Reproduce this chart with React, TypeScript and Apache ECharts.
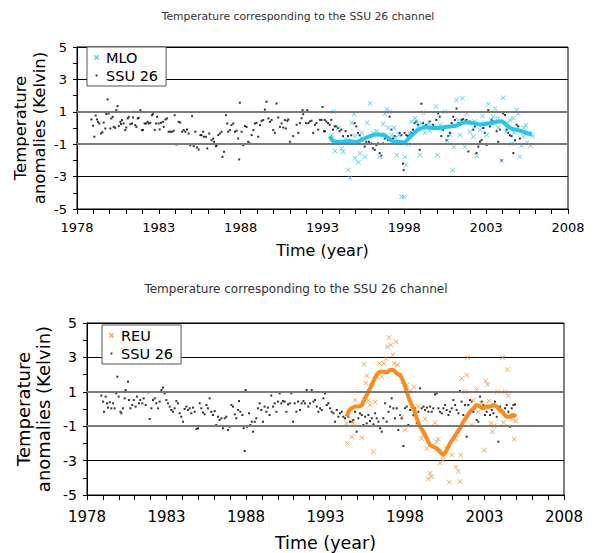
import React, { useEffect, useRef } from 'react';
import * as echarts from 'echarts';

const TITLE = 'Temperature corresponding to the SSU 26 channel';
const X_MIN = 1978;
const X_MAX = 2008;
const X_STEP = 5;
const Y_MIN = -5;
const Y_MAX = 5;
const Y_STEP = 2;

// ---------- top chart (MLO) ----------
const ssuTop: number[][] = [
  [1978.88,0.53],[1978.98,0.14],[1979.06,-0.54],[1979.14,0.77],[1979.22,0.53],[1979.28,0.38],[1979.36,0.28],[1979.47,-0.34],[1979.55,-0.26],[1979.63,0.34],[1979.73,-0.03],[1979.79,0.86],[1979.87,1.76],[1979.93,0.9],[1980.04,-0.03],[1980.1,0.59],[1980.18,0.69],[1980.24,0.07],[1980.34,0.01],[1980.4,1.1],[1980.48,1.35],[1980.55,0.12],[1980.65,0.38],[1980.69,0.24],[1980.75,0.49],[1980.85,0.28],[1980.95,-0.13],[1981.01,0.03],[1981.1,0.59],[1981.16,0.69],[1981.26,0.24],[1981.36,0.28],[1981.42,0.65],[1981.46,1.0],[1981.56,0.18],[1981.63,0.07],[1981.71,0.59],[1981.77,0.63],[1981.87,1.1],[1981.97,-0.13],[1982.03,-0.13],[1982.13,0.28],[1982.22,0.28],[1982.32,0.38],[1982.38,0.28],[1982.48,0.32],[1982.58,0.79],[1982.64,0.86],[1982.75,-0.13],[1982.83,0.28],[1982.89,0.69],[1982.99,0.28],[1983.05,-0.09],[1983.13,0.32],[1983.25,0.38],[1983.3,0.07],[1983.4,0.53],[1983.5,0.59],[1983.6,-0.23],[1983.7,-0.23],[1983.8,-0.23],[1983.91,-0.17],[1983.97,0.79],[1984.07,-1.02],[1984.21,0.38],[1984.31,0.34],[1984.42,-0.23],[1984.52,-0.13],[1984.62,-0.23],[1984.72,-0.09],[1984.82,-0.34],[1984.92,-1.06],[1985.03,0.73],[1985.13,-1.12],[1985.23,-0.23],[1985.33,-1.2],[1985.43,-1.33],[1985.54,-0.44],
  [1985.61,-0.44],[1985.71,-0.23],[1985.75,-0.54],[1985.88,-0.54],[1985.96,-1.26],[1986.08,-0.34],[1986.22,-0.75],[1986.32,-0.65],[1986.37,-0.85],[1986.49,-1.12],[1986.53,-1.06],[1986.63,-0.44],[1986.73,-0.34],[1986.83,-0.23],[1986.89,-1.78],[1986.98,-1.47],[1987.1,0.79],[1987.18,0.28],[1987.24,-0.23],[1987.34,-0.13],[1987.44,0.18],[1987.55,0.28],[1987.65,-0.23],[1987.75,-0.17],[1987.85,-0.65],[1987.91,-1.94],[1987.95,1.56],[1988.06,-0.23],[1988.16,-1.06],[1988.26,0.12],[1988.36,0.07],[1988.46,-0.85],[1988.56,-0.95],[1988.67,-0.44],[1988.77,-0.13],[1988.87,0.28],[1988.97,0.32],[1989.07,-0.54],[1989.18,0.18],[1989.28,0.44],[1989.38,0.49],[1989.48,1.14],[1989.58,1.62],[1989.69,0.59],[1989.79,0.38],[1989.89,0.49],[1989.99,-0.13],[1990.09,-0.3],[1990.19,1.51],[1990.3,0.65],[1990.4,0.07],[1990.5,0.28],[1990.6,0.03],[1990.7,0.49],[1990.76,-0.03],[1990.85,0.44],[1990.91,0.53],
  [1991.01,-0.85],[1991.21,-0.5],[1991.42,0.2],[1991.52,-0.3],[1991.62,0.3],[1991.72,0.6],[1991.78,1.1],[1991.82,0.85],[1991.99,0.3],[1992.07,1.1],[1992.13,0.3],[1992.23,0.4],[1992.33,0.45],[1992.43,-0.3],[1992.54,0.2],[1992.64,0.3],[1992.74,-0.1],[1992.84,0.5],[1992.94,0.5],[1993.0,1.3],[1993.09,-0.2],
  [1993.13,0.5],[1993.15,-0.2],[1993.23,0.4],[1993.34,0.3],[1993.44,0.2],[1993.54,0.5],[1993.64,-0.1],[1993.74,0.1],[1993.84,0.1],[1993.95,0.0],[1994.05,-0.2],[1994.15,-0.1],[1994.25,-0.5],[1994.41,-0.2],[1994.56,-0.5],[1994.66,-0.75],[1994.76,-0.45],[1994.96,0.3],[1995.07,0.1],[1995.17,-0.3],[1995.27,-0.45],[1995.37,-0.65],[1995.47,-0.75],[1995.58,-1.15],[1995.68,-0.85],[1995.84,-0.85],[1995.98,-0.95],[1996.08,-1.25],[1996.19,-1.35],[1996.29,-1.05],[1996.39,-0.95],[1996.49,-1.55],[1996.59,-1.7],[1996.7,-0.95],[1996.8,-0.65],[1997.0,-0.75],[1997.1,0.7],[1997.21,-0.1],[1997.31,-0.65],[1997.41,-0.5],[1997.51,-0.95],[1997.71,-0.3],[1997.82,-0.45],[1997.92,-2.2],[1997.96,-2.6],[1998.02,-0.3],[1998.12,-0.45],[1998.22,-0.5],[1998.33,-0.45],[1998.43,-0.3],[1998.53,-0.1],[1998.63,0.3],[1998.73,0.4],[1998.83,0.2],[1998.94,-1.35],[1999.04,1.5],[1999.14,0.3],[1999.24,0.1],[1999.34,0.2],[1999.55,0.4],[1999.75,0.2],[1999.95,0.5],[2000.06,0.9],[2000.16,0.7],[2000.26,-0.5],[2000.36,-0.1],
  [2000.58,-0.75],[2000.68,-0.5],[2000.79,-0.3],[2000.89,0.3],[2000.99,0.7],[2001.09,0.5],[2001.19,1.2],[2001.29,0.3],[2001.4,0.2],[2001.5,0.5],[2001.6,0.55],[2001.7,0.4],[2001.8,0.5],[2001.91,-1.45],[2002.01,0.4],[2002.11,0.3],[2002.21,-0.1],[2002.31,0.1],[2002.41,-1.55],[2002.52,-1.15],[2002.62,-0.85],[2002.72,-0.75],[2002.82,0.0],[2002.92,-0.3],[2003.03,-1.05],[2003.13,1.1],[2003.23,0.1],[2003.33,0.5],[2003.43,0.4],[2003.53,0.3],[2003.64,-0.2],[2003.74,-0.85],[2003.84,-0.1],[2003.94,-2.0],[2004.04,0.9],[2004.15,0.8],[2004.25,-0.1],[2004.35,-0.3],[2004.45,-0.45],[2004.55,-0.5],[2004.66,-1.55],[2004.76,-0.75],[2004.86,0.2],[2004.96,0.1],[2005.06,-0.65]
];

const mloPoints: number[][] = [
  [1993.56,-0.43],[1993.66,1.0],[1993.76,-1.42],[1993.96,0.02],[1994.17,-1.26],[1994.27,-1.46],[1994.4,-0.7],[1994.57,-2.6],[1994.68,-3.07],[1994.78,0.33],[1994.92,0.86],[1994.98,-1.87],[1995.0,-0.5],[1995.19,-2.12],[1995.29,-1.56],[1995.39,-0.29],[1995.59,-1.77],[1995.73,0.33],[1995.9,1.52],[1996.1,-0.33],[1996.3,-0.2],[1996.5,-1.77],[1996.71,0.25],[1996.81,0.86],[1996.92,1.15],[1997.02,0.02],[1997.12,1.0],[1997.22,-0.43],[1997.36,0.02],[1997.45,-0.6],[1997.53,-1.67],[1997.67,-0.43],[1997.83,-4.24],[1997.98,-4.24],[1998.04,-1.77],[1998.1,-2.28],[1998.24,-0.99],[1998.3,-0.3],[1998.44,0.39],[1998.65,0.6],[1998.75,0.39],[1998.85,0.1],[1998.95,-1.67],[1999.05,0.29],[1999.16,0.95],[1999.26,-0.29],[1999.36,0.02],[1999.5,0.3],[1999.56,-0.16],[1999.8,0.1],[1999.93,1.32],[2000.03,-1.67],[2000.2,0.2],[2000.28,-0.12],[2000.48,1.0],[2000.62,-0.78],[2000.79,-0.43],[2000.95,-2.6],[2001.03,-1.15],[2001.19,1.73],[2001.3,0.5],[2001.4,-0.43],[2001.54,1.83],[2001.7,-1.15],[2001.8,0.9],[2002.01,-0.23],[2002.21,-0.53],[2002.3,0.4],[2002.42,-1.73],[2002.62,-0.12],[2002.78,0.74],[2002.9,0.3],[2003.03,-0.43],[2003.13,1.46],[2003.3,0.5],[2003.43,0.7],[2003.54,1.21],[2003.7,0.6],[2003.74,0.02],[2003.94,-2.02],[2004.04,1.87],[2004.21,-0.23],[2004.3,0.3],[2004.45,0.49],[2004.55,-0.95],[2004.66,0.6],[2004.7,-0.3],[2004.86,1.11],[2004.96,0.9],[2005.06,-1.77],[2005.16,-1.1],[2005.27,-0.53],[2005.3,0.0],[2005.43,0.18],[2005.51,-0.9],[2005.63,-0.33],[2005.71,-1.09],[2005.84,-0.49]
];

const mloSmooth: number[][] = [
  [1993.45,-0.5],[1993.65,-0.8],[1994.1,-0.85],[1994.6,-0.82],[1995.1,-0.85],[1995.4,-0.72],[1995.9,-0.5],[1996.3,-0.4],[1996.7,-0.42],[1997.0,-0.6],[1997.3,-0.82],[1997.7,-0.85],[1998.0,-0.88],[1998.3,-0.6],[1998.6,-0.3],[1998.95,-0.05],[1999.3,0.05],[1999.7,0.0],[2000.1,0.0],[2000.6,0.08],[2001.1,0.12],[2001.5,0.3],[2001.8,0.35],[2002.2,0.3],[2002.6,0.22],[2003.0,0.25],[2003.4,0.32],[2003.9,0.42],[2004.3,0.12],[2004.6,-0.05],[2005.0,-0.15],[2005.4,-0.28],[2005.8,-0.4]
];

// ---------- bottom chart (REU) ----------
const ssuBottom: number[][] = [
  [1978.9,0.78],[1979.01,0.43],[1979.07,-0.16],[1979.17,0.72],[1979.26,0.33],[1979.32,0.08],[1979.43,0.39],[1979.53,0.04],[1979.64,0.33],[1979.74,0.04],[1979.84,0.91],[1979.91,1.88],[1979.99,0.72],[1980.1,-0.16],[1980.16,-0.25],[1980.26,0.04],[1980.37,0.62],[1980.43,1.1],[1980.58,1.59],[1980.64,0.52],[1980.73,0.04],[1980.85,0.23],[1980.94,0.52],[1981.06,0.14],[1981.14,0.72],[1981.27,0.33],[1981.35,0.52],[1981.48,0.33],[1981.56,0.62],[1981.69,0.23],[1981.84,0.97],[1981.94,-0.58],[1982.05,0.04],[1982.15,0.52],[1982.26,0.62],[1982.36,0.33],[1982.47,0.04],[1982.57,0.43],[1982.68,1.1],[1982.78,1.24],[1982.88,0.91],[1982.99,0.52],[1983.09,0.33],[1983.2,0.14],[1983.3,-0.06],[1983.41,-0.16],[1983.51,0.04],[1983.62,0.46],[1983.72,0.33],[1983.83,-0.25],[1983.93,-0.45],[1984.04,-0.74],[1984.14,0.0],[1984.25,0.14],[1984.35,-0.06],[1984.46,0.04],[1984.56,-0.25],[1984.67,0.08],[1984.77,-0.16],[1984.88,-1.16],[1984.98,-1.12],[1985.09,0.33],[1985.19,0.04],[1985.3,-0.2],[1985.4,-0.31],[1985.51,0.23],[1985.61,0.04],[1985.71,0.62],[1985.82,-0.16],[1985.92,-0.35],[1986.03,-0.12],[1986.13,-0.93],[1986.24,-0.45],[1986.34,-0.64],[1986.45,-0.54],[1986.55,-1.12],[1986.66,-0.54],[1986.76,-0.45],[1986.87,-1.22],[1986.97,-1.03],[1987.08,0.23],[1987.18,0.14],[1987.29,-0.31],[1987.39,-0.54],[1987.5,-0.06],[1987.56,0.46],[1987.64,-0.16],[1987.77,-0.35],[1987.85,-1.12],[1987.92,-2.44],[1987.98,1.1],[1988.06,-1.03],[1988.19,-0.25],[1988.27,-0.93],[1988.36,-0.74],[1988.44,-1.32],[1988.55,-0.74],[1988.65,-0.54],[1988.75,0.04],[1988.86,0.33],[1988.96,-0.06],[1989.07,-0.74],[1989.17,0.14],[1989.28,-0.16],[1989.38,0.08],[1989.48,-0.35],[1989.59,0.78],[1989.7,0.14],[1989.8,0.33],[1989.91,-0.16],[1990.01,0.43],[1990.12,0.91],[1990.22,0.33],[1990.33,0.46],[1990.43,0.43],[1990.54,-0.16],[1990.64,0.27],[1990.75,0.33],[1990.85,0.91],[1990.96,-0.74],[1991.06,0.33],[1991.17,-0.16],[1991.27,0.43],
  [1991.4,-0.06],[1991.5,0.33],[1991.61,0.46],[1991.71,0.33],[1991.82,1.1],[1991.92,0.14],[1992.03,0.33],[1992.13,1.1],[1992.24,0.43],[1992.34,0.52],[1992.45,0.14],[1992.55,-0.16],[1992.66,0.04],[1992.76,-0.06],[1992.87,0.62],[1992.97,0.91],[1993.08,0.23],[1993.18,0.33],[1993.29,0.04],[1993.39,-0.16],[1993.5,-0.25],[1993.6,-0.74],[1993.71,-0.06],[1993.81,-0.45],[1993.91,-0.25],[1994.02,-0.16],[1994.12,-0.45],[1994.23,-0.54],[1994.44,-0.45],[1994.54,-0.74],[1994.65,-0.74],[1994.75,-0.64],[1994.86,-0.16],[1994.96,-1.32],[1995.07,-0.54],[1995.17,-0.25],[1995.28,-0.35],[1995.38,-0.93],[1995.49,-0.45],[1995.59,-0.83],[1995.7,-0.35],[1995.8,-0.7],[1995.91,-0.54],[1996.01,-0.89],[1996.12,-0.25],[1996.22,-0.54],[1996.33,-0.74],[1996.43,-1.12],[1996.54,-1.32],[1996.64,-0.54],[1996.75,0.33],[1996.85,-0.74],[1996.96,-0.16],[1997.06,0.14],[1997.16,0.62],[1997.27,0.04],[1997.37,-0.54],[1997.48,0.04],[1997.58,-1.22],[1997.69,-0.35],[1997.79,-0.54],[1997.9,-2.15],[1998.0,0.04],[1998.11,0.14],[1998.21,-0.93],[1998.32,-0.06],[1998.42,0.33],[1998.53,-0.35],[1998.63,0.04],[1998.74,-0.83],[1998.84,-0.16],[1998.95,1.2],[1999.05,0.04],[1999.16,0.14],[1999.26,-0.06],[1999.37,0.08],[1999.47,-0.16],[1999.58,0.14],[1999.68,-0.16],[1999.78,0.04],[1999.89,0.85],[1999.99,0.91],[2000.1,0.04],[2000.2,-0.16],[2000.31,-0.25],[2000.41,0.04],[2000.52,0.23],[2000.62,-0.06],[2000.73,-0.35],[2000.83,-0.16],[2000.94,0.04],[2001.04,0.52],[2001.15,0.23],[2001.25,-0.06],[2001.36,-0.25],[2001.46,1.05],[2001.56,0.43],[2001.67,-0.35],[2001.77,0.23],[2001.88,-1.61],[2001.98,0.23],[2002.09,0.52],[2002.19,0.43],[2002.3,-0.16],[2002.4,0.04],[2002.51,-0.64],[2002.61,-0.74],[2002.72,0.72],[2002.82,0.43],[2002.93,0.23],[2003.03,-0.35],[2003.14,-0.16],[2003.24,0.08],[2003.35,-0.35],[2003.45,-0.06],[2003.56,-0.25],[2003.66,0.43],[2003.77,-0.45],[2003.87,-1.9],[2003.98,0.14],[2004.08,-0.06],[2004.19,-0.16],[2004.29,0.04],[2004.4,0.23],[2004.5,-0.16],[2004.61,-1.03],[2004.71,0.04],[2004.82,0.23],[2004.92,0.27]
];

const reuPoints: number[][] = [
  [1994.33,-0.83],[1994.38,-2.0],[1994.65,-1.61],[1994.75,-0.83],[1994.86,0.52],[1995.28,-1.67],[1995.42,2.6],[1995.55,1.49],[1995.59,1.94],[1995.7,0.5],[1995.8,0.23],[1996.01,-2.48],[1996.12,0.39],[1996.22,1.88],[1996.39,2.65],[1996.54,1.88],[1996.68,2.65],[1996.81,2.94],[1996.89,3.62],[1996.99,4.15],[1997.1,3.72],[1997.23,3.14],[1997.31,2.65],[1997.44,3.91],[1997.52,2.56],[1997.69,1.98],[1997.79,-0.45],[1997.9,1.59],[1998.0,-1.22],[1998.11,1.4],[1998.32,1.05],[1998.48,-0.02],[1998.57,1.3],[1998.63,-0.35],[1998.84,0.14],[1999.05,-1.71],[1999.16,-1.51],[1999.26,-0.58],[1999.37,-2.29],[1999.47,-4.07],[1999.58,-3.74],[1999.68,-3.93],[1999.89,-0.8],[1999.99,-1.9],[2000.1,-1.76],[2000.2,-3.12],[2000.41,-2.97],[2000.62,-2.29],[2000.79,-4.26],[2000.94,-2.67],[2001.15,-1.71],[2001.21,-3.39],[2001.36,-3.64],[2001.46,-4.22],[2001.5,-2.67],[2001.56,1.78],[2001.77,1.0],[2001.88,1.98],[2001.94,3.0],[2002.19,-0.93],[2002.3,0.52],[2002.51,1.14],[2002.61,-0.16],[2002.82,0.33],[2002.99,-2.38],[2003.07,1.63],[2003.2,1.43],[2003.28,0.46],[2003.41,-0.83],[2003.49,-1.32],[2003.6,-0.97],[2003.81,1.0],[2003.98,-0.16],[2004.14,3.0],[2004.19,-0.78],[2004.29,1.0],[2004.44,2.3],[2004.5,0.77],[2004.61,-0.35],[2004.75,-0.58],[2004.86,-1.76],[2004.98,-0.7]
];

const reuSmooth: number[][] = [
  [1994.33,-0.45],[1994.5,-0.06],[1994.65,0.04],[1994.86,0.14],[1995.07,0.14],[1995.28,0.23],[1995.42,0.52],[1995.59,0.81],[1995.8,1.2],[1996.0,1.59],[1996.22,1.98],[1996.43,2.17],[1996.64,2.17],[1996.85,2.13],[1997.06,2.27],[1997.27,2.27],[1997.48,2.07],[1997.69,1.98],[1997.9,1.59],[1998.11,1.0],[1998.32,0.43],[1998.53,0.04],[1998.74,-0.54],[1998.95,-1.03],[1999.16,-1.32],[1999.37,-1.71],[1999.58,-2.09],[1999.78,-2.19],[1999.99,-2.29],[2000.2,-2.48],[2000.41,-2.67],[2000.62,-2.38],[2000.83,-2.0],[2001.04,-1.71],[2001.25,-1.41],[2001.46,-1.12],[2001.67,-0.74],[2001.88,-0.45],[2002.09,-0.16],[2002.3,0.04],[2002.51,0.23],[2002.72,0.14],[2002.93,0.04],[2003.14,0.14],[2003.35,0.14],[2003.56,0.23],[2003.77,0.14],[2003.98,-0.06],[2004.19,-0.25],[2004.4,-0.45],[2004.61,-0.45],[2004.82,-0.35],[2004.98,-0.45]
];

const FONT = '"DejaVu Sans", Verdana, sans-serif';
const CYAN = '#22c6f2';
const ORANGE = '#ff8a1c';
const X_SYM = 'path://M0,1L1,0L5,4L9,0L10,1L6,5L10,9L9,10L5,6L1,10L0,9L4,5Z';
const X_LEG = 'path://M0,0L0.01,0L0,0.01Z M2,3L3,2L5,4L7,2L8,3L6,5L8,7L7,8L5,6L3,8L2,7L4,5Z M10,10L9.99,10L10,9.99Z';
const DOT_LEG = 'path://M0,0L0.01,0L0,0.01Z M4,4L6,4L6,6L4,6Z M10,10L9.99,10L10,9.99Z';

function xAxis(gridIndex: number, fontSize: number, margin: number, nameSize: number, nameGap: number) {
  return {
    type: 'value', gridIndex, min: X_MIN, max: X_MAX, interval: X_STEP,
    axisLine: { show: true, onZero: false, lineStyle: { color: '#000', width: 1 } },
    axisTick: { show: true, length: 5, lineStyle: { color: '#000' } },
    minorTick: { show: true, splitNumber: 5, length: 5, lineStyle: { color: '#000' } },
    splitLine: { show: false },
    axisLabel: { fontFamily: FONT, fontSize, color: '#000', margin, formatter: (v: number) => String(v) },
    name: 'Time (year)', nameLocation: 'middle', nameGap,
    nameTextStyle: { fontFamily: FONT, fontSize: nameSize, color: '#000' },
  };
}

function yAxis(gridIndex: number, fontSize: number) {
  return {
    type: 'value', gridIndex, min: Y_MIN, max: Y_MAX, interval: Y_STEP,
    axisLine: { show: true, onZero: false, lineStyle: { color: '#000', width: 1 } },
    axisTick: { show: true, length: 4, lineStyle: { color: '#000' } },
    minorTick: { show: true, splitNumber: 2, length: 4, lineStyle: { color: '#000' } },
    splitLine: { show: true, lineStyle: { color: '#000', width: 1 } },
    axisLabel: { fontFamily: FONT, fontSize, color: '#000', margin: 10 },
  };
}

const gridLines = {
  silent: true, symbol: 'none', label: { show: false },
  lineStyle: { color: '#7a7a7a', width: 2, type: 'solid' },
  data: [{ yAxis: 1 }, { yAxis: -1 }],
};

export default function App() {
  const ref = useRef<HTMLDivElement>(null);
  useEffect(() => {
    if (!ref.current) return;
    const chart = echarts.init(ref.current, undefined, { renderer: 'svg' });
    chart.setOption({
      animation: false,
      backgroundColor: '#fff',
      grid: [
        { left: 77, top: 47, width: 491, height: 162, show: true, borderColor: '#000', borderWidth: 1, backgroundColor: 'transparent' },
        { left: 87, top: 323, width: 477, height: 172, show: true, borderColor: '#000', borderWidth: 1, backgroundColor: 'transparent' },
      ],
      xAxis: [xAxis(0, 13, 12, 16, 33), xAxis(1, 15, 14, 17.5, 39)],
      yAxis: [yAxis(0, 13), yAxis(1, 14)],
      legend: [
        {
          orient: 'vertical', left: 87, top: 47, padding: [3, 8, 3, 5], itemGap: 3,
          itemWidth: 9, itemHeight: 9, backgroundColor: '#fff', borderColor: '#555', borderWidth: 1,
          textStyle: { fontFamily: FONT, fontSize: 14.5, color: '#000' },
          data: [{ name: 'MLO', icon: X_LEG }, { name: 'SSU 26', icon: DOT_LEG }],
        },
        {
          orient: 'vertical', left: 102, top: 325, padding: [3, 8, 3, 5], itemGap: 3,
          itemWidth: 9, itemHeight: 9, backgroundColor: '#fff', borderColor: '#555', borderWidth: 1,
          textStyle: { fontFamily: FONT, fontSize: 14.5, color: '#000' },
          data: [{ name: 'REU', icon: X_LEG }, { name: 'SSU 26', icon: DOT_LEG }],
        },
      ],
      graphic: [
        { type: 'text', x: 298, y: 16, style: { text: TITLE, font: `10.8px ${FONT}`, fill: '#333', align: 'center', verticalAlign: 'middle' } },
        { type: 'text', x: 296, y: 289, style: { text: TITLE, font: `12px ${FONT}`, fill: '#333', align: 'center', verticalAlign: 'middle' } },
        { type: 'text', x: 30, y: 128, rotation: Math.PI / 2, style: { text: 'Temperature\nanomalies (Kelvin)', font: `16.5px ${FONT}`, lineHeight: 19, fill: '#000', align: 'center', verticalAlign: 'middle' } },
        { type: 'text', x: 33, y: 409, rotation: Math.PI / 2, style: { text: 'Temperature\nanomalies (Kelvin)', font: `18px ${FONT}`, lineHeight: 20, fill: '#000', align: 'center', verticalAlign: 'middle' } },
      ],
      series: [
        { name: 'SSU 26', type: 'scatter', xAxisIndex: 0, yAxisIndex: 0, data: ssuTop, symbol: 'rect', symbolSize: 2, itemStyle: { color: '#000' }, markLine: gridLines },
        { name: 'MLO', type: 'scatter', xAxisIndex: 0, yAxisIndex: 0, data: mloPoints, symbol: X_SYM, symbolSize: 5, itemStyle: { color: CYAN } },
        { name: 'MLO smoothed', type: 'line', xAxisIndex: 0, yAxisIndex: 0, data: mloSmooth, showSymbol: false, smooth: 0.3, lineStyle: { color: CYAN, width: 4 }, itemStyle: { color: CYAN } },
        { name: 'SSU 26', type: 'scatter', xAxisIndex: 1, yAxisIndex: 1, data: ssuBottom, symbol: 'rect', symbolSize: 2, itemStyle: { color: '#000' }, markLine: gridLines },
        { name: 'REU', type: 'scatter', xAxisIndex: 1, yAxisIndex: 1, data: reuPoints, symbol: X_SYM, symbolSize: 5, itemStyle: { color: ORANGE } },
        { name: 'REU smoothed', type: 'line', xAxisIndex: 1, yAxisIndex: 1, data: reuSmooth, showSymbol: false, smooth: 0.3, lineStyle: { color: ORANGE, width: 4 }, itemStyle: { color: ORANGE } },
      ],
    });
    return () => chart.dispose();
  }, []);
  return <div ref={ref} style={{ position: 'fixed', left: 0, top: 0, width: 596, height: 553 }} />;
}
